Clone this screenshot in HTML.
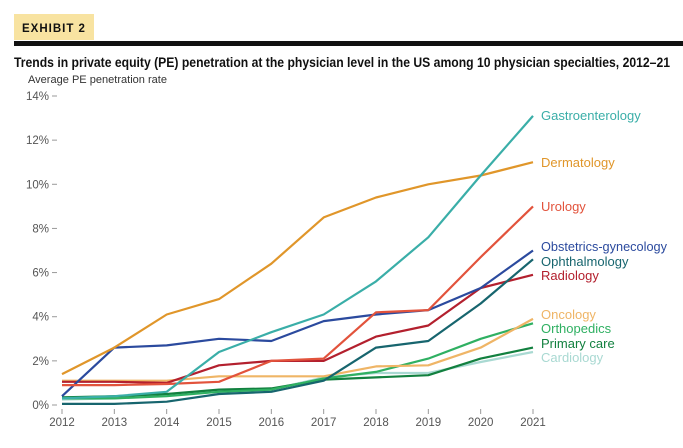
<!DOCTYPE html>
<html><head><meta charset="utf-8"><style>
html,body{margin:0;padding:0;background:#fff;}
svg{display:block;font-family:"Liberation Sans Narrow","Liberation Sans",sans-serif;}
</style></head><body>
<svg id="chart" width="683" height="448" viewBox="0 0 683 448">
  <rect x="14" y="14" width="80" height="26" fill="#f8e3a1"/>
  <text x="22" y="32" font-family="Liberation Sans, sans-serif" font-size="11.5" font-weight="bold" letter-spacing="1" fill="#111">EXHIBIT 2</text>
  <rect x="14" y="41" width="669" height="5" fill="#111"/>
  <text x="14" y="67" font-size="13.5" font-weight="bold" fill="#111" textLength="656" lengthAdjust="spacingAndGlyphs">Trends in private equity (PE) penetration at the physician level in the US among 10 physician specialties, 2012–21</text>
  <text x="28" y="83" font-size="11" fill="#333" textLength="139" lengthAdjust="spacingAndGlyphs">Average PE penetration rate</text>
  <g id="axes"></g>
  <g id="series"></g>
</svg>
<script>
const years = [2012,2013,2014,2015,2016,2017,2018,2019,2020,2021];
const yTicks = [0,2,4,6,8,10,12,14];
const names = ["Gastroenterology","Dermatology","Urology","Obstetrics-gynecology","Ophthalmology","Radiology","Oncology","Orthopedics","Primary care","Cardiology"];
const gastro = [0.3,0.4,0.6,2.4,3.3,4.1,5.6,7.6,10.4,13.1];
const derm = [1.4,2.6,4.1,4.8,6.4,8.5,9.4,10.0,10.4,11.0];
const uro = [0.9,0.9,0.95,1.05,2.0,2.1,4.2,4.3,6.7,9.0];
const obgyn = [0.4,2.6,2.7,3.0,2.9,3.8,4.1,4.3,5.3,7.0];
const ophth = [0.05,0.05,0.15,0.5,0.6,1.1,2.6,2.9,4.6,6.6];
const radio = [1.05,1.05,1.0,1.8,2.0,2.0,3.1,3.6,5.3,5.9];
const onco = [1.1,1.1,1.1,1.3,1.3,1.3,1.75,1.8,2.6,3.9];
const ortho = [0.3,0.3,0.4,0.6,0.7,1.2,1.5,2.1,3.0,3.7];
const primary = [0.35,0.4,0.5,0.7,0.75,1.15,1.25,1.35,2.1,2.6];
const cardio = [0.25,0.3,0.45,0.6,0.7,1.25,1.45,1.45,1.95,2.4];

const seriesList = [cardio,primary,ortho,onco,radio,ophth,obgyn,uro,derm,gastro];
const seriesNames = ["Cardiology","Primary care","Orthopedics","Oncology","Radiology","Ophthalmology","Obstetrics-gynecology","Urology","Dermatology","Gastroenterology"];
const colors = {"Gastroenterology":"#3aaea8","Dermatology":"#e0962a","Urology":"#e2533c","Obstetrics-gynecology":"#2b4a9e","Ophthalmology":"#17656e","Radiology":"#b3202e","Oncology":"#efb566","Orthopedics":"#2fb062","Primary care":"#12803f","Cardiology":"#a9d9d2"};
const labelY = {"Gastroenterology":120,"Dermatology":167,"Urology":211,"Obstetrics-gynecology":251,"Ophthalmology":266,"Radiology":280,"Oncology":319,"Orthopedics":333,"Primary care":348,"Cardiology":362};

const NS="http://www.w3.org/2000/svg";
const xS = y => 62 + (y-2012)*(533-62)/9;
const yS = v => 405 - v*(405-96)/14;
function mk(tag, attrs, parent){const e=document.createElementNS(NS,tag);for(const k in attrs)e.setAttribute(k,attrs[k]);parent.appendChild(e);return e;}
const axes=document.getElementById('axes');
yTicks.forEach(t=>{
  const l=mk('line',{x1:52,x2:57,y1:yS(t),y2:yS(t),stroke:'#999','stroke-width':1},axes);
  
  
  const tx=mk('text',{x:49,y:yS(t)+4,'text-anchor':'end','font-size':11.5,fill:'#555'},axes);
  tx.textContent=t+'%';
  
  
});
years.forEach(yr=>{
  const l=mk('line',{x1:xS(yr),x2:xS(yr),y1:409,y2:414,stroke:'#999','stroke-width':1},axes);
  
  
  const tx=mk('text',{x:xS(yr),y:426,'text-anchor':'middle','font-size':11.5,fill:'#555'},axes);
  tx.textContent=yr;
  
  
});
const sg=document.getElementById('series');
seriesList.forEach((vals,i)=>{
  const nm=seriesNames[i];
  const pts=vals.map((v,j)=>xS(years[j]).toFixed(1)+','+yS(v).toFixed(1)).join(' ');
  const pl=mk('polyline',{points:pts,fill:'none',stroke:colors[nm],'stroke-width':2.2,'stroke-linejoin':'round'},sg);
  
  
});
names.forEach(nm=>{
  const tx=mk('text',{x:541,y:labelY[nm],'font-size':13,fill:colors[nm],'font-family':'Liberation Sans, sans-serif'},sg);
  if(nm==="Obstetrics-gynecology"){tx.setAttribute('textLength',126);tx.setAttribute('lengthAdjust','spacingAndGlyphs');}
  tx.textContent=nm;
  
  
});
</script>
</body></html>
